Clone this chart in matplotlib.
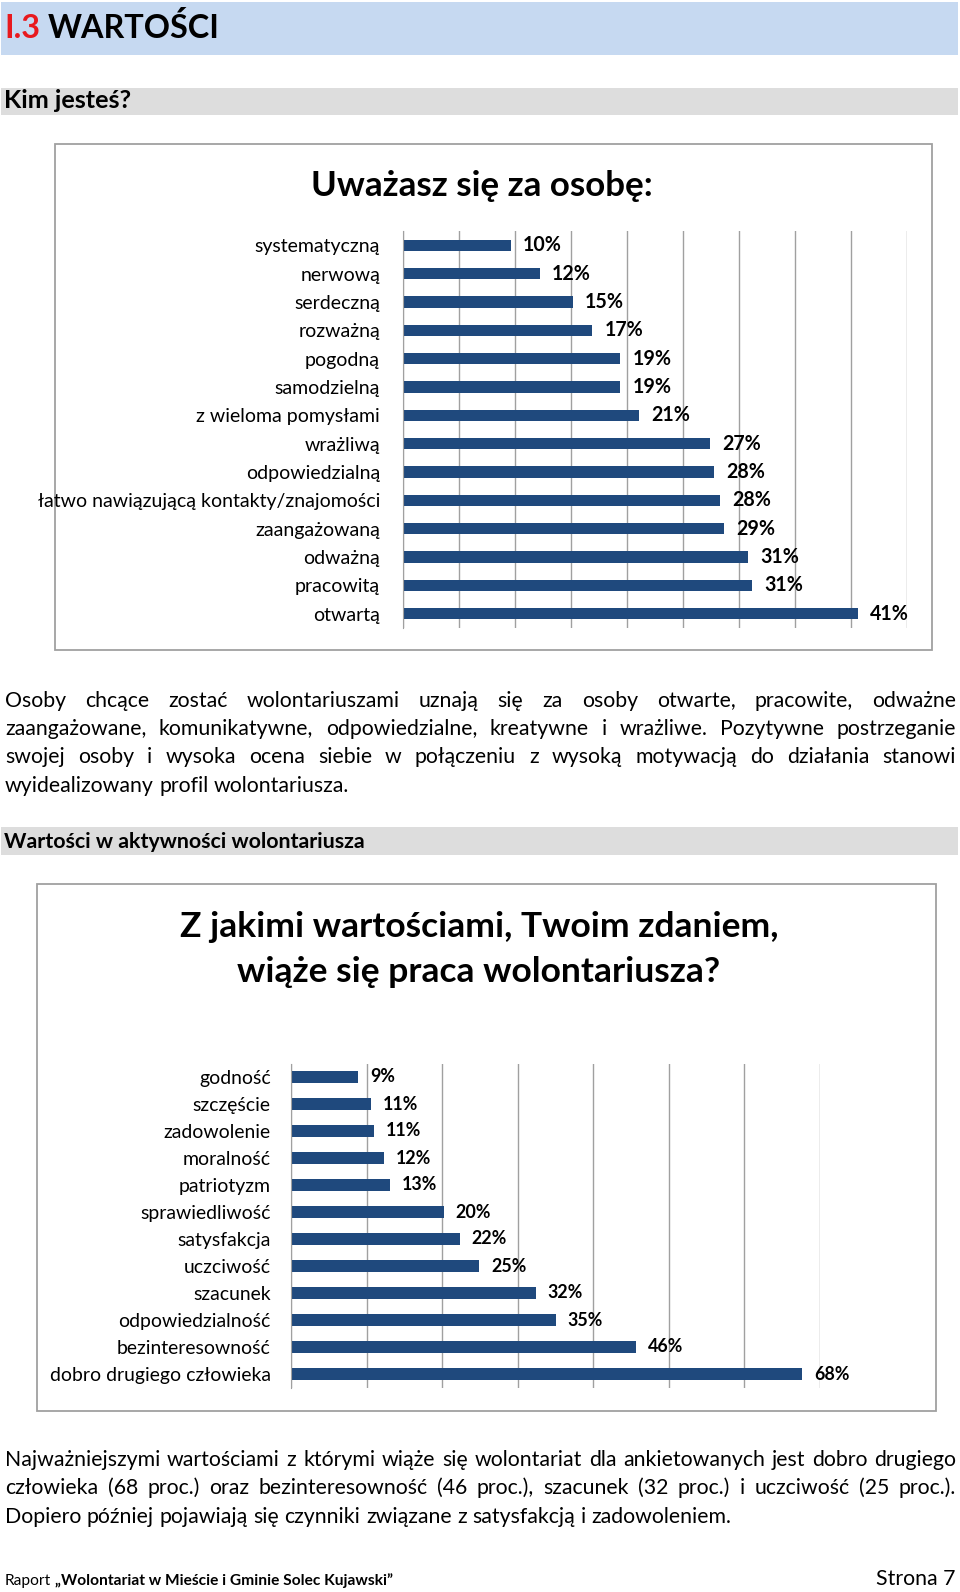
import matplotlib
matplotlib.use("Agg")
import matplotlib.pyplot as plt
from matplotlib.patches import Rectangle

plt.rcParams['font.family'] = ['Lato', 'DejaVu Sans']

W, H = 960, 1592

# Wykres 1 - "Uważasz się za osobę:"
cechy = ["systematyczną", "nerwową", "serdeczną", "rozważną", "pogodną",
         "samodzielną", "z wieloma pomysłami", "wrażliwą", "odpowiedzialną",
         "łatwo nawiązującą kontakty/znajomości", "zaangażowaną", "odważną",
         "pracowitą", "otwartą"]
cechy_proc = [9.65, 12.2, 15.2, 16.9, 19.4, 19.4, 21.1, 27.4, 27.8, 28.3,
              28.7, 30.8, 31.2, 40.6]

# Wykres 2 - wartości
wartosci = ["godność", "szczęście", "zadowolenie", "moralność", "patriotyzm",
            "sprawiedliwość", "satysfakcja", "uczciwość", "szacunek",
            "odpowiedzialność", "bezinteresowność", "dobro drugiego człowieka"]
wartosci_proc = [8.9, 10.6, 11.0, 12.3, 13.1, 20.2, 22.3, 24.9, 32.4, 35.0,
                 45.6, 67.6]

akapit1 = [
    "Osoby chcące zostać wolontariuszami uznają się za osoby otwarte, pracowite, odważne",
    "zaangażowane, komunikatywne, odpowiedzialne, kreatywne i wrażliwe. Pozytywne postrzeganie",
    "swojej osoby i wysoka ocena siebie w połączeniu z wysoką motywacją do działania stanowi",
    "wyidealizowany profil wolontariusza.",
]
akapit2 = [
    "Najważniejszymi wartościami z którymi wiąże się wolontariat dla ankietowanych jest dobro drugiego",
    "człowieka (68 proc.) oraz bezinteresowność (46 proc.), szacunek (32 proc.) i uczciwość (25 proc.).",
    "Dopiero później pojawiają się czynniki związane z satysfakcją i zadowoleniem.",
]

NIEBIESKI = "#1F497D"
SIATKA = "#A0A0A0"
RAMKA = "#A0A0A0"

fig = plt.figure(figsize=(W / 100, H / 100), dpi=100)
r = fig.canvas.get_renderer()

# tło strony w pikselach
tlo = fig.add_axes([0, 0, 1, 1], zorder=0)
tlo.set_xlim(0, W)
tlo.set_ylim(H, 0)
tlo.axis("off")


def szer(tekst, size, weight="normal"):
    t = tlo.text(0, 0, tekst, fontsize=size, fontweight=weight)
    w = t.get_window_extent(r).width
    t.remove()
    return w


def dopasuj(tekst, width, weight="normal"):
    return 20 * width / szer(tekst, 20, weight)


def wyjustuj(linia, y, size, x0=5, x1=956, ostatnia=False):
    slowa = linia.split()
    w = [szer(s, size) for s in slowa]
    if ostatnia:
        odstep = szer("a a", size) - szer("aa", size)
    else:
        odstep = (x1 - x0 - sum(w)) / (len(slowa) - 1)
    x = x0
    for s, ws in zip(slowa, w):
        tlo.text(x, y, s, fontsize=size, va="baseline", ha="left")
        x += ws + odstep


# nagłówek
tlo.add_patch(Rectangle((1, 2), 957, 53, color="#C6D9F1", lw=0))
fs = dopasuj("I.3 WARTOŚCI", 216, "bold")
tlo.text(4, 38, "I.3", fontsize=fs, fontweight="bold", color="#E8191E", va="baseline")
xw = 4 + szer("I.3 WARTOŚCI", fs, "bold") - szer("WARTOŚCI", fs, "bold")
tlo.text(xw, 38, "WARTOŚCI", fontsize=fs, fontweight="bold", va="baseline")

# paski sekcji
tlo.add_patch(Rectangle((1, 88), 957, 27, color="#DDDDDD", lw=0))
tlo.text(4, 108, "Kim jesteś?", fontsize=dopasuj("Kim jesteś?", 128, "bold"),
         fontweight="bold", va="baseline")
tlo.add_patch(Rectangle((1, 827), 957, 28, color="#DDDDDD", lw=0))
tlo.text(4, 848, "Wartości w aktywności wolontariusza",
         fontsize=dopasuj("Wartości w aktywności wolontariusza", 360, "bold"),
         fontweight="bold", va="baseline")

# ramki wykresów
tlo.add_patch(Rectangle((55, 144), 877, 506, fill=False, ec=RAMKA, lw=1.3))
tlo.add_patch(Rectangle((37, 884), 899, 527, fill=False, ec=RAMKA, lw=1.3))

# tytuły wykresów
t1 = "Uważasz się za osobę:"
tlo.text(482, 196, t1, fontsize=dopasuj(t1, 341, "bold"), fontweight="bold",
         ha="center", va="baseline")
t2a = "Z jakimi wartościami, Twoim zdaniem,"
t2b = "wiąże się praca wolontariusza?"
fs2 = dopasuj(t2a, 597, "bold")
tlo.text(479, 937, t2a, fontsize=fs2, fontweight="bold", ha="center", va="baseline")
tlo.text(479, 982, t2b, fontsize=fs2, fontweight="bold", ha="center", va="baseline")


def wykres(poz, kat, proc, xmax, krok, wys, lab_fs, val_fs, pad):
    x0, x1, y0, y1 = poz
    ax = fig.add_axes([x0 / W, 1 - y1 / H, (x1 - x0) / W, (y1 - y0) / H], zorder=1)
    y = list(range(len(kat)))
    ax.barh(y, proc, height=wys, color=NIEBIESKI)
    ax.set_ylim(len(kat) - 0.5, -0.5)
    ax.set_xlim(0, xmax)
    ax.set_xticks(range(0, xmax + 1, krok))
    ax.xaxis.grid(True, color=SIATKA, lw=1)
    ax.set_axisbelow(True)
    ax.set_yticks(y, kat, fontsize=lab_fs)
    ax.tick_params(length=0, labelbottom=False)
    ax.tick_params(axis="y", pad=pad)
    for s in ["top", "right", "bottom"]:
        ax.spines[s].set_visible(False)
    ax.spines["left"].set_color(SIATKA)
    ax.patch.set_alpha(0)
    for yi, v in zip(y, proc):
        ax.annotate(f"{round(v)}%", (v, yi), xytext=(12, 0), textcoords="offset pixels",
                    fontsize=val_fs, fontweight="bold", va="center", ha="left")
    return ax


wykres((403, 907, 231, 628), cechy, cechy_proc, 45, 5, 0.4,
       dopasuj("odpowiedzialną", 134), dopasuj("41%", 39, "bold"), 16.5)
wykres((291, 820, 1063.5, 1387.5), wartosci, wartosci_proc, 70, 10, 0.43,
       dopasuj("odpowiedzialność", 152), dopasuj("68%", 35.5, "bold"), 14.5)

# akapity
fp = dopasuj(akapit2[2], 724)
for i, (linia, y) in enumerate(zip(akapit1, [707, 735, 763, 792])):
    wyjustuj(linia, y, fp, ostatnia=(i == len(akapit1) - 1))
for i, (linia, y) in enumerate(zip(akapit2, [1466, 1494, 1523])):
    wyjustuj(linia, y, fp, ostatnia=(i == len(akapit2) - 1))

# stopka
tytul = "„Wolontariat w Mieście i Gminie Solec Kujawski”"
ff = dopasuj(tytul, 336, "bold")
tlo.text(5, 1585, "Raport", fontsize=ff, va="baseline")
xr = 5 + szer("Raport a", ff) - szer("a", ff)
tlo.text(xr, 1585, tytul, fontsize=ff, fontweight="bold", va="baseline")
tlo.text(956, 1585, "Strona 7", fontsize=dopasuj("Strona 7", 79), ha="right", va="baseline")

fig.savefig("out.png", dpi=100)
